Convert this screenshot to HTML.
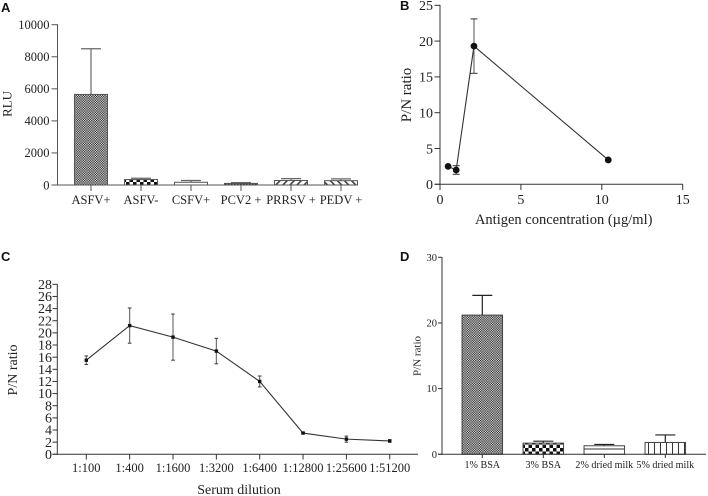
<!DOCTYPE html>
<html lang="en">
<head>
<meta charset="utf-8">
<title>Assay optimisation charts</title>
<style>
html,body{margin:0;padding:0;background:#fff;width:708px;height:496px;overflow:hidden}
svg{display:block;filter:blur(0.35px)}
text{font-family:"Liberation Serif",serif;fill:#222}
.letter{font-family:"Liberation Sans",sans-serif;font-weight:bold;font-size:13px;fill:#111}
</style>
</head>
<body>
<svg id="figure" width="708" height="496" viewBox="0 0 708 496" xmlns="http://www.w3.org/2000/svg">
<defs>
<pattern id="p-fine" width="2.4" height="2.4" patternUnits="userSpaceOnUse"><rect width="2.4" height="2.4" fill="#e4e4e4"/><rect width="1.2" height="1.2" fill="#222"/><rect x="1.2" y="1.2" width="1.2" height="1.2" fill="#222"/></pattern>
<pattern id="p-check" width="7" height="7" patternUnits="userSpaceOnUse"><rect width="7" height="7" fill="#fff"/><rect width="3.5" height="3.5" fill="#111"/><rect x="3.5" y="3.5" width="3.5" height="3.5" fill="#111"/></pattern>
<pattern id="p-horiz" width="5" height="9" patternUnits="userSpaceOnUse"><rect width="5" height="9" fill="#fff"/><rect y="8" width="5" height="1" fill="#333"/></pattern>
<pattern id="p-dense" width="3" height="3" patternUnits="userSpaceOnUse"><rect width="3" height="3" fill="#999"/><rect width="1.5" height="1.5" fill="#222"/></pattern>
<pattern id="p-right" width="5" height="5" patternUnits="userSpaceOnUse" patternTransform="rotate(45)"><rect width="5" height="5" fill="#fff"/><rect width="1.6" height="5" fill="#444"/></pattern>
<pattern id="p-left" width="5" height="5" patternUnits="userSpaceOnUse" patternTransform="rotate(-45)"><rect width="5" height="5" fill="#fff"/><rect width="1.6" height="5" fill="#444"/></pattern>
<pattern id="p-vert" width="6" height="6" patternUnits="userSpaceOnUse"><rect width="6" height="6" fill="#fff"/><rect width="1" height="6" fill="#333"/></pattern>
<pattern id="p-hline" width="8" height="6.5" patternUnits="userSpaceOnUse"><rect width="8" height="6.5" fill="#fff"/><rect y="0" width="8" height="1" fill="#333"/></pattern>
</defs>
</svg>
<script>
// Panel A data
const aCategories = ['ASFV+', 'ASFV-', 'CSFV+', 'PCV2 +', 'PRRSV +', 'PEDV +'];
const aValues = [5650, 340, 170, 100, 280, 270];
const aErrorTops = [8500, 420, 280, 150, 400, 380];
const aFills = ['p-fine', 'p-check', 'p-horiz', 'p-dense', 'p-right', 'p-left'];
const aTicks = [0, 2000, 4000, 6000, 8000, 10000];
// Panel B data
const bX = [0.5, 1, 2.1, 10.4];
const bY = [2.5, 2, 19.3, 3.4];
const bErr = [0, 0.6, 3.8, 0];
const bXTicks = [0, 5, 10, 15];
const bYTicks = [0, 5, 10, 15, 20, 25];
// Panel C data
const cCategories = ['1:100', '1:400', '1:1600', '1:3200', '1:6400', '1:12800', '1:25600', '1:51200'];
const cValues = [15.5, 21.2, 19.3, 17, 12, 3.5, 2.5, 2.2];
const cErr = [0.7, 2.9, 3.8, 2.1, 0.9, 0.1, 0.5, 0.2];
const cTicks = [0, 2, 4, 6, 8, 10, 12, 14, 16, 18, 20, 22, 24, 26, 28];
// Panel D data
const dCategories = ['1% BSA', '3% BSA', '2% dried milk', '5% dried milk'];
const dValues = [21.2, 1.7, 1.3, 1.8];
const dErrorTops = [24.2, 2.0, 1.5, 2.95];
const dFills = ['p-fine', 'p-check', 'p-hline', 'p-vert'];
const dTicks = [0, 10, 20, 30];

const svg = document.getElementById('figure');
const NS = 'http://www.w3.org/2000/svg';
function mk(tag, attrs, text) {
  const el = document.createElementNS(NS, tag);
  for (const k in attrs) el.setAttribute(k, attrs[k]);
  if (text !== undefined) el.textContent = text;
  svg.appendChild(el);
  return el;
}
function seg(x1, y1, x2, y2, color, width, name) {
  const el = mk('line', {x1: x1, y1: y1, x2: x2, y2: y2, stroke: color, 'stroke-width': width});
  
  
  return el;
}
function label(x, y, str, size, anchor, name, rotate) {
  const attrs = {x: x, y: y, 'font-size': size, 'text-anchor': anchor};
  if (rotate) attrs.transform = 'rotate(-90 ' + x + ' ' + y + ')';
  const el = mk('text', attrs, str);
  
  
  return el;
}
function letter(x, y, str) {
  const el = mk('text', {x: x, y: y, class: 'letter'}, str);
  
  
}
function errorBar(x, yTop, yBottom, cap, color, width, name) {
  seg(x, yTop, x, yBottom, color, width, name + '-stem');
  seg(x - cap, yTop, x + cap, yTop, color, width, name + '-cap-top');
}
function bar(x, w, yTop, y0, fill, stroke, name) {
  const el = mk('rect', {x: x - w / 2, y: yTop, width: w, height: y0 - yTop, fill: 'url(#' + fill + ')', stroke: stroke, 'stroke-width': 1});
  
  
}
function dot(x, y, r, name) {
  const el = mk('circle', {cx: x, cy: y, r: r, fill: '#111'});
  
  
}
function polyline(points, name) {
  const el = mk('polyline', {points: points.join(' '), fill: 'none', stroke: '#333', 'stroke-width': 1.1});
  
  
}

/* ---------- Panel A ---------- */
const ax = i => 91 + 50 * i;
const ay = v => 185 - v * (185 - 24.7) / 10000;
letter(1, 12, 'A');
aCategories.forEach((c, i) => {
  errorBar(ax(i), ay(aErrorTops[i]), ay(aValues[i]), 10, '#666', 1.2, 'a-error-' + i);
  bar(ax(i), 33, ay(aValues[i]), ay(0), aFills[i], '#555', 'a-bar-' + i);
  seg(ax(i), 185, ax(i), 191, '#555', 1, 'a-x-tick-' + i);
  label(ax(i), 204, c, 12.5, 'middle', 'a-x-label-' + i);
});
seg(57.5, 24.2, 57.5, 185.5, '#555', 1, 'a-y-axis');
seg(51.5, 185, 356, 185, '#555', 1, 'a-x-axis');
aTicks.forEach((t, i) => {
  seg(51.5, ay(t), 57.5, ay(t), '#555', 1, 'a-y-tick-' + i);
  label(49.5, ay(t) + 4.3, String(t), 12.5, 'end', 'a-y-label-' + i);
});
label(11.5, 104, 'RLU', 13, 'middle', 'a-y-title', true);

/* ---------- Panel B ---------- */
const bx = v => 440 + v * (682.7 - 440) / 15;
const by = v => 184.3 - v * (184.3 - 5.3) / 25;
letter(400, 10, 'B');
seg(440, 5, 440, 184.8, '#333', 1, 'b-y-axis');
seg(434.5, 184.3, 683, 184.3, '#333', 1, 'b-x-axis');
bYTicks.forEach((t, i) => {
  seg(434.5, by(t), 440, by(t), '#333', 1, 'b-y-tick-' + i);
  label(433, by(t) + 4.8, String(t), 14, 'end', 'b-y-label-' + i);
});
bXTicks.forEach((t, i) => {
  seg(bx(t), 184.3, bx(t), 190, '#333', 1, 'b-x-tick-' + i);
  label(bx(t), 204, String(t), 14, 'middle', 'b-x-label-' + i);
});
polyline(bX.map((v, i) => bx(v) + ',' + by(bY[i])), 'b-line');
bX.forEach((v, i) => {
  if (bErr[i] > 0) {
    seg(bx(v), by(bY[i] + bErr[i]), bx(v), by(bY[i] - bErr[i]), '#555', 1, 'b-error-stem-' + i);
    seg(bx(v) - 3.5, by(bY[i] + bErr[i]), bx(v) + 3.5, by(bY[i] + bErr[i]), '#333', 1, 'b-error-cap-top-' + i);
    seg(bx(v) - 3.5, by(bY[i] - bErr[i]), bx(v) + 3.5, by(bY[i] - bErr[i]), '#333', 1, 'b-error-cap-bottom-' + i);
  }
  dot(bx(v), by(bY[i]), 3.4, 'b-point-' + i);
});
label(411, 95, 'P/N ratio', 15, 'middle', 'b-y-title', true);
label(563.7, 224, 'Antigen concentration (µg/ml)', 14.5, 'middle', 'b-x-title');

/* ---------- Panel C ---------- */
const cx = i => 86.3 + 43.35 * i;
const cy = v => 454.3 - v * (454.3 - 284.3) / 28;
letter(1, 261, 'C');
seg(57.3, 284, 57.3, 454.8, '#333', 1, 'c-y-axis');
seg(52.5, 454.3, 418, 454.3, '#333', 1, 'c-x-axis');
cTicks.forEach((t, i) => {
  seg(52.5, cy(t), 57.3, cy(t), '#333', 1, 'c-y-tick-' + i);
  label(52, cy(t) + 4.6, String(t), 14, 'end', 'c-y-label-' + i);
});
cCategories.forEach((c, i) => {
  seg(cx(i), 454.3, cx(i), 459.5, '#333', 1, 'c-x-tick-' + i);
  label(cx(i), 472, c, 12.5, 'middle', 'c-x-label-' + i);
});
polyline(cValues.map((v, i) => cx(i) + ',' + cy(v)), 'c-line');
cValues.forEach((v, i) => {
  seg(cx(i), cy(v + cErr[i]), cx(i), cy(v - cErr[i]), '#666', 1.1, 'c-error-stem-' + i);
  seg(cx(i) - 1.8, cy(v + cErr[i]), cx(i) + 1.8, cy(v + cErr[i]), '#333', 1, 'c-error-cap-top-' + i);
  seg(cx(i) - 1.8, cy(v - cErr[i]), cx(i) + 1.8, cy(v - cErr[i]), '#333', 1, 'c-error-cap-bottom-' + i);
  const m = mk('rect', {x: cx(i) - 1.7, y: cy(v) - 1.7, width: 3.4, height: 3.4, fill: '#111'});
  
  
});
label(17, 370, 'P/N ratio', 14, 'middle', 'c-y-title', true);
label(239, 494, 'Serum dilution', 14, 'middle', 'c-x-title');

/* ---------- Panel D ---------- */
const dx = i => 482.3 + 61 * i;
const dy = v => 454.3 - v * (454.3 - 257.3) / 30;
letter(400, 261, 'D');
dCategories.forEach((c, i) => {
  errorBar(dx(i), dy(dErrorTops[i]), dy(dValues[i]), 10, '#222', 1.2, 'd-error-' + i);
  bar(dx(i), 40.5, dy(dValues[i]), dy(0), dFills[i], '#444', 'd-bar-' + i);
  seg(dx(i), 454.3, dx(i), 458, '#333', 1, 'd-x-tick-' + i);
  label(dx(i), 468, c, 10.1, 'middle', 'd-x-label-' + i);
});
seg(442, 257, 442, 454.8, '#333', 1, 'd-y-axis');
seg(438, 454.3, 706, 454.3, '#333', 1, 'd-x-axis');
dTicks.forEach((t, i) => {
  seg(438, dy(t), 442, dy(t), '#333', 1, 'd-y-tick-' + i);
  label(437, dy(t) + 3.5, String(t), 10.5, 'end', 'd-y-label-' + i);
});
label(420.5, 356, 'P/N ratio', 11, 'middle', 'd-y-title', true);
</script>
</body>
</html>
